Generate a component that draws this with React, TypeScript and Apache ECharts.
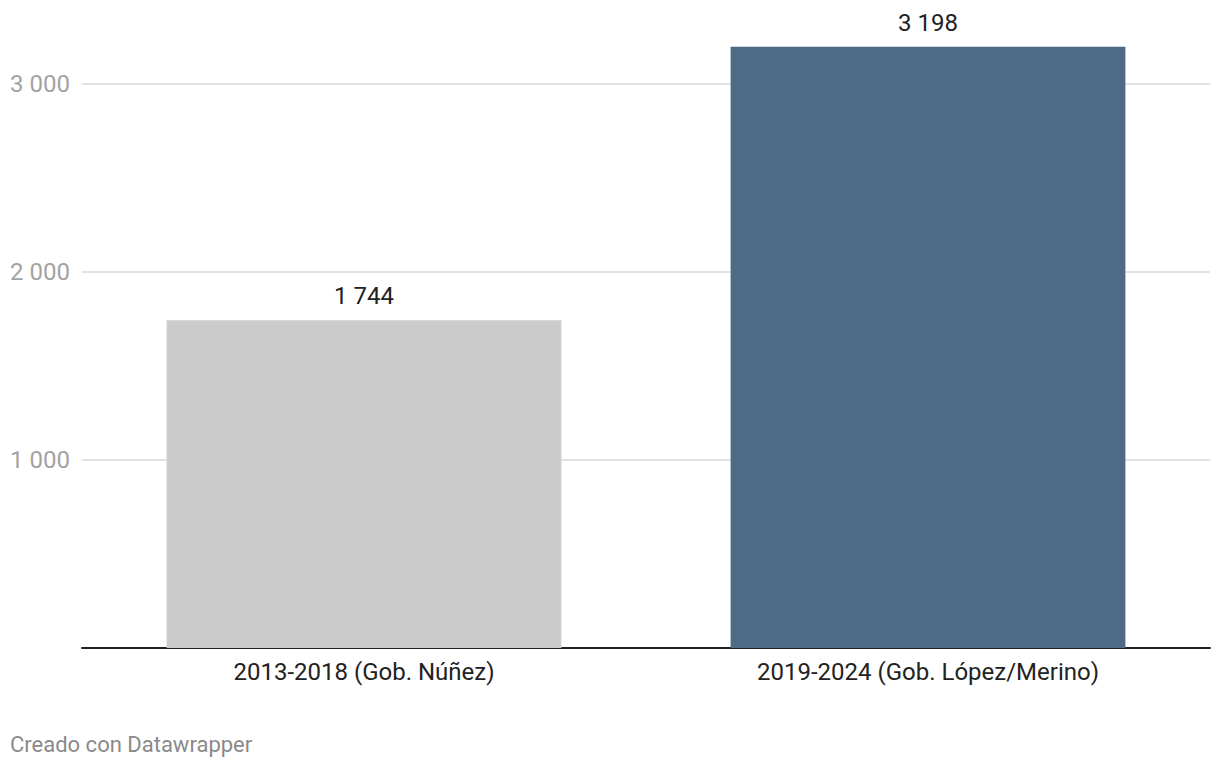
import React, { useEffect, useRef } from "react";
import * as echarts from "echarts";

const categories = ["2013-2018 (Gob. Núñez)", "2019-2024 (Gob. López/Merino)"];
const values = [1744, 3198];
const barColors = ["#cccccc", "#4f6a84"];
const footerText = "Creado con Datawrapper";

const fmt = (v: number) => String(v).replace(/\B(?=(\d{3})+(?!\d))/g, " ");

export default function App() {
  const ref = useRef<HTMLDivElement>(null);
  useEffect(() => {
    if (!ref.current) return;
    const chart = echarts.init(ref.current, null, { renderer: "svg" });
    chart.setOption({
      animation: false,
      textStyle: { fontFamily: "Roboto" },
      grid: { left: 82, right: 10, top: 84, bottom: 120, containLabel: false },
      title: {
        text: footerText,
        left: 10,
        top: 733,
        padding: 0,
        textStyle: { fontFamily: "Roboto", fontSize: 22, fontWeight: "normal", color: "#8a8a8a" },
      },
      xAxis: {
        type: "category",
        data: categories,
        axisLine: { show: true, lineStyle: { color: "#222222", width: 2 } },
        axisTick: { show: false },
        axisLabel: { fontFamily: "Roboto", fontSize: 24, color: "#222222", margin: 12 },
      },
      yAxis: {
        type: "value",
        min: 0,
        max: 3000,
        interval: 1000,
        axisLine: { show: false },
        axisTick: { show: false },
        axisLabel: {
          fontFamily: "Roboto",
          fontSize: 24,
          color: "#a3a3a3",
          margin: 12,
          formatter: (v: number) => (v === 0 ? "" : fmt(v)),
        },
        splitLine: { show: true, lineStyle: { color: "#e3e3e3", width: 2 } },
      },
      series: [
        {
          type: "bar",
          clip: false,
          barWidth: "70%",
          data: values.map((v, i) => ({ value: v, itemStyle: { color: barColors[i] } })),
          label: {
            show: true,
            position: "top",
            distance: 12,
            fontFamily: "Roboto",
            fontSize: 24,
            color: "#222222",
            formatter: (p: any) => fmt(p.value),
          },
        },
      ],
    });
    return () => chart.dispose();
  }, []);
  return (
    <div
      ref={ref}
      style={{ position: "absolute", left: 0, top: 0, width: 1220, height: 768, background: "#ffffff" }}
    />
  );
}
